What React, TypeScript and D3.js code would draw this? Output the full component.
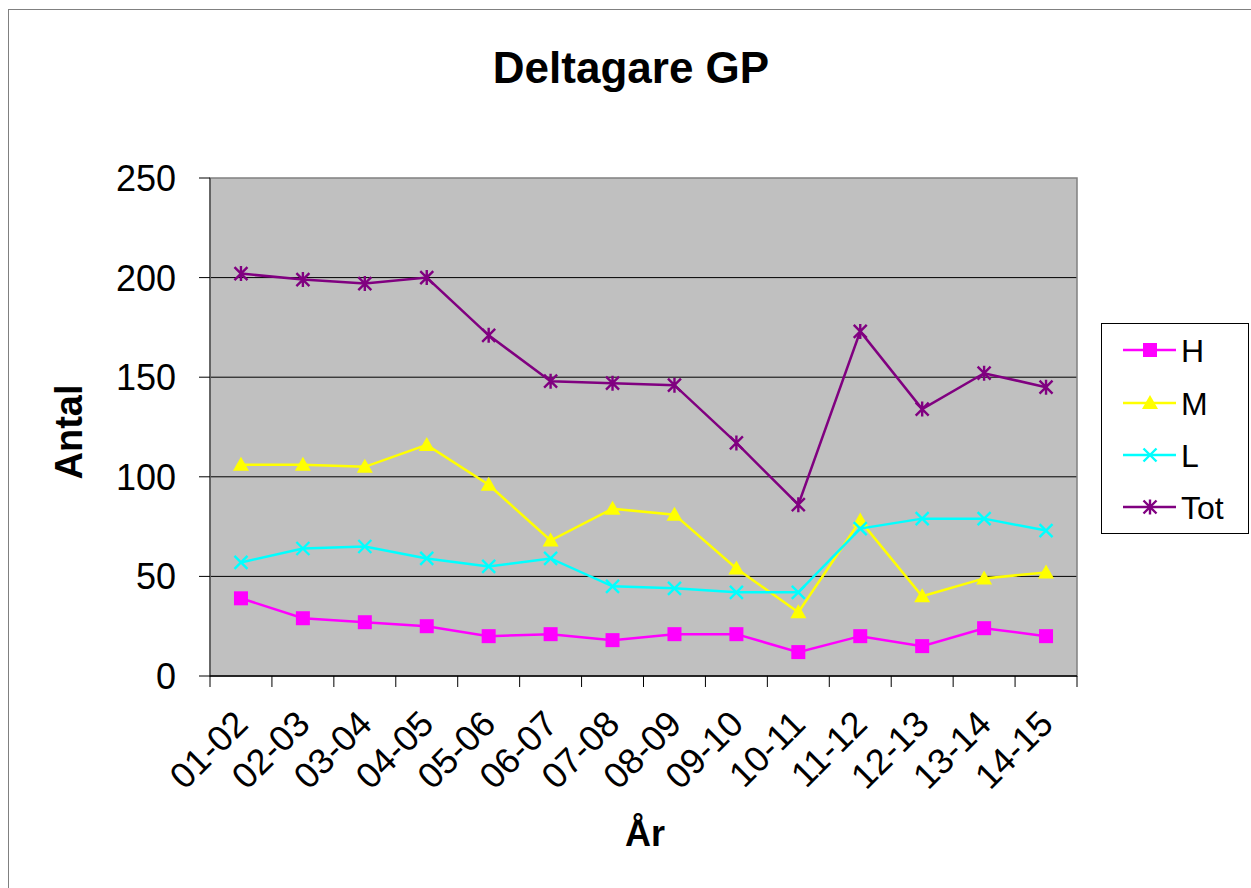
import React from "react";
import * as d3 from "d3";

const categories = ["01-02","02-03","03-04","04-05","05-06","06-07","07-08","08-09","09-10","10-11","11-12","12-13","13-14","14-15"];
const seriesNames = ["H","M","L","Tot"];
const valuesH = [39,29,27,25,20,21,18,21,21,12,20,15,24,20];
const valuesM = [106,106,105,116,96,68,84,81,54,32,78,40,49,52];
const valuesL = [57,64,65,59,55,59,45,44,42,42,74,79,79,73];
const valuesTot = [202,199,197,200,171,148,147,146,117,86,173,134,152,145];
const yTicks = [0,50,100,150,200,250];
const colors = ["#FF00FF","#FFFF00","#00FFFF","#800080"];
const markers = ["square","triangle","x","star"];

const W = 1251, H = 888;
const left = 210, right = 1077, top = 178, bottom = 676;
const font = "Arial, 'Liberation Sans', sans-serif";

function Marker({ type, x, y, color }: { type: string; x: number; y: number; color: string }) {
  if (type === "square") return <rect x={x - 7} y={y - 7} width={14} height={14} fill={color} />;
  if (type === "triangle") return <path d={`M${x},${y - 8}L${x + 8},${y + 6}L${x - 8},${y + 6}Z`} fill={color} />;
  if (type === "x") return <path d={`M${x - 6.5},${y - 6.5}L${x + 6.5},${y + 6.5}M${x - 6.5},${y + 6.5}L${x + 6.5},${y - 6.5}`} stroke={color} strokeWidth={2.4} fill="none" />;
  return <path d={`M${x - 6.5},${y - 6.5}L${x + 6.5},${y + 6.5}M${x - 6.5},${y + 6.5}L${x + 6.5},${y - 6.5}M${x},${y - 7.5}L${x},${y + 7.5}`} stroke={color} strokeWidth={2.4} fill="none" />;
}

export default function App() {
  const x = d3.scaleBand<string>().domain(categories).range([left, right]).padding(0);
  const y = d3.scaleLinear().domain([0, 250]).range([bottom, top]);
  const all = [valuesH, valuesM, valuesL, valuesTot];
  const cx = (c: string) => (x(c) as number) + x.bandwidth() / 2;
  const line = d3.line<number>().x((_, i) => cx(categories[i])).y((v) => y(v));
  const edges = categories.map((c) => x(c) as number).concat([right]);
  const legendY = [350, 403, 455, 507];

  return (
    <svg width={W} height={H} style={{ position: "absolute", left: 0, top: 0, display: "block" }} fontFamily={font}>
      <rect x={0} y={0} width={W} height={H} fill="#fff" />
      <rect x={8.5} y={9.5} width={1400} height={1000} fill="none" stroke="#808080" strokeWidth={1} />
      <text x={631} y={83} textAnchor="middle" fontSize={44} fontWeight="bold">Deltagare GP</text>

      <rect x={left} y={top} width={right - left} height={bottom - top} fill="#C0C0C0" />
      {yTicks.filter((t) => t > 0 && t < 250).map((t) => (
        <line key={t} x1={left} x2={right} y1={y(t)} y2={y(t)} stroke="#000" strokeWidth={1} />
      ))}
      <rect x={left} y={top} width={right - left} height={bottom - top} fill="none" stroke="#808080" strokeWidth={1.5} />
      <line x1={left} x2={left} y1={top} y2={bottom} stroke="#555" strokeWidth={1.5} />
      <line x1={left} x2={right} y1={bottom} y2={bottom} stroke="#000" strokeWidth={1.5} />
      {yTicks.map((t) => (
        <g key={t}>
          <line x1={left - 11} x2={left} y1={y(t)} y2={y(t)} stroke="#000" strokeWidth={1} />
          <text x={176} y={y(t)} dy="0.36em" textAnchor="end" fontSize={36}>{t}</text>
        </g>
      ))}
      {edges.map((e, i) => (
        <line key={i} x1={e} x2={e} y1={bottom} y2={bottom + 11} stroke="#000" strokeWidth={1} />
      ))}
      {categories.map((c) => (
        <text key={c} transform={`translate(${cx(c) + 9},${bottom + 50}) rotate(-45)`} textAnchor="end" fontSize={36}>{c}</text>
      ))}
      <text transform={`translate(82,432) rotate(-90)`} textAnchor="middle" fontSize={38} fontWeight="bold">Antal</text>
      <text x={645} y={846} textAnchor="middle" fontSize={36} fontWeight="bold">År</text>

      {all.map((vals, si) => (
        <g key={si}>
          <path d={line(vals) || ""} fill="none" stroke={colors[si]} strokeWidth={2.5} />
          {vals.map((v, i) => (
            <Marker key={i} type={markers[si]} x={cx(categories[i])} y={y(v)} color={colors[si]} />
          ))}
        </g>
      ))}

      <rect x={1101.5} y={323.5} width={147} height={210} fill="#fff" stroke="#000" strokeWidth={1} />
      {seriesNames.map((n, i) => (
        <g key={n}>
          <line x1={1123} x2={1176} y1={legendY[i]} y2={legendY[i]} stroke={colors[i]} strokeWidth={2.5} />
          <Marker type={markers[i]} x={1150} y={legendY[i]} color={colors[i]} />
          <text x={1181} y={legendY[i]} dy="0.36em" fontSize={32}>{n}</text>
        </g>
      ))}
    </svg>
  );
}
